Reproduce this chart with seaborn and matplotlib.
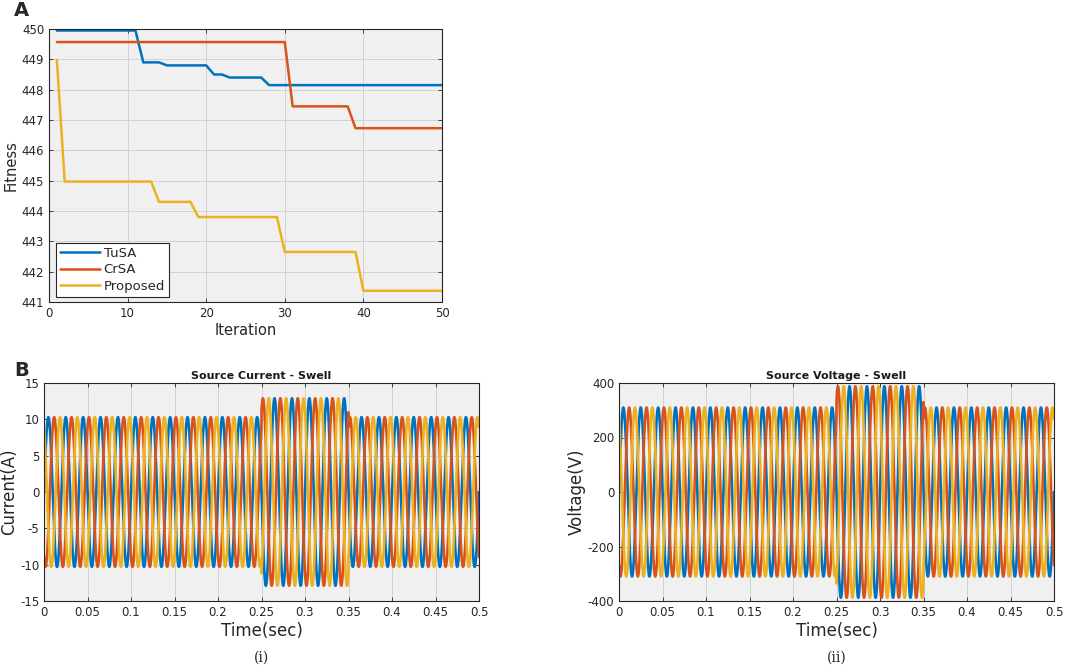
import numpy as np
import pandas as pd
import matplotlib
matplotlib.use("Agg")
import matplotlib.pyplot as plt
import seaborn as sns

# ---------------- Panel A data ----------------
iterations = list(range(1, 51))
tusa = [449.95]*11 + [448.9]*3 + [448.8]*6 + [448.5]*2 + [448.4]*5 + [448.15]*23
crsa = [449.57]*30 + [447.45]*8 + [446.73]*12
proposed = [448.98] + [444.97]*12 + [444.3]*5 + [443.8]*11 + [442.65]*10 + [441.37]*11
series_names = ["TuSA", "CrSA", "Proposed"]

# ---------------- Panel B data (three-phase waveform parameters) ----------------
freq_hz = 50.0
phase_deg = [0.0, -120.0, 120.0]
phase_names = ["a", "b", "c"]
swell_start, swell_end = 0.25, 0.35
current_amp_normal, current_amp_swell = 10.3, 12.9
voltage_amp_normal, voltage_amp_swell = 310.0, 388.0
time_ticks = [0, 0.05, 0.1, 0.15, 0.2, 0.25, 0.3, 0.35, 0.4, 0.45, 0.5]
time_labels = ["0", "0.05", "0.1", "0.15", "0.2", "0.25", "0.3", "0.35", "0.4", "0.45", "0.5"]
current_ticks = [-15, -10, -5, 0, 5, 10, 15]
voltage_ticks = [-400, -200, 0, 200, 400]
fit_yticks = [441, 442, 443, 444, 445, 446, 447, 448, 449, 450]
fit_xticks = [0, 10, 20, 30, 40, 50]

COLORS = ["#0072BD", "#D95319", "#EDB120"]

sns.set_style("ticks")
plt.rcParams["font.family"] = ["DejaVu Sans"]
plt.rcParams["xtick.direction"] = "in"
plt.rcParams["ytick.direction"] = "in"
plt.rcParams["axes.unicode_minus"] = False

W, H = 1065, 669
fig = plt.figure(figsize=(W/100, H/100), dpi=100)

def style_axes(ax):
    ax.set_facecolor("#F0F0F0")
    ax.grid(True, color="#D2D2D2", linewidth=0.7)
    ax.set_axisbelow(True)
    for s in ax.spines.values():
        s.set_color("#262626")
        s.set_linewidth(0.8)
        s.set_visible(True)
    ax.tick_params(axis="both", which="both", length=3, width=0.6, color="#262626",
                   labelsize=8.5, labelcolor="#262626", top=True, right=True)

# ---------------- Panel A ----------------
axA = fig.add_axes([49/W, 1-302/H, 393/W, 273/H])
dfA = pd.DataFrame({
    "Iteration": iterations*3,
    "Fitness": tusa + crsa + proposed,
    "Method": sum([[n]*len(iterations) for n in series_names], []),
})
sns.lineplot(data=dfA, x="Iteration", y="Fitness", hue="Method", palette=COLORS,
             hue_order=series_names, linewidth=1.8, ax=axA, estimator=None)
style_axes(axA)
axA.set_xlim(0, 50)
axA.set_ylim(441, 450)
axA.set_xticks(fit_xticks)
axA.set_yticks(fit_yticks)
axA.set_xlabel("Iteration", fontsize=10.5, color="#262626", labelpad=2)
axA.set_ylabel("Fitness", fontsize=10.5, color="#262626", labelpad=2)
leg = axA.legend(loc="lower left", bbox_to_anchor=(0.018, 0.02), fontsize=9.5,
                 frameon=True, fancybox=False, edgecolor="#262626", framealpha=1,
                 handlelength=3.0, handletextpad=0.3, borderpad=0.3, labelspacing=0.25,
                 borderaxespad=0)
leg.get_frame().set_linewidth(0.8)
for line in leg.get_lines():
    line.set_linewidth(1.8)

fig.text(14/W, 1-11/H, "A", fontsize=14, fontweight="bold", va="center", ha="left")
fig.text(14/W, 1-371/H, "B", fontsize=14, fontweight="bold", va="center", ha="left")

# ---------------- Panel B ----------------
t = np.linspace(0, 0.5, 5001)

def waveform_df(amp_normal, amp_swell):
    amp = np.where((t >= swell_start) & (t < swell_end), amp_swell, amp_normal)
    frames = []
    for name, ph in zip(phase_names, phase_deg):
        y = amp * np.sin(2*np.pi*freq_hz*t + np.deg2rad(ph))
        frames.append(pd.DataFrame({"t": t, "y": y, "phase": name}))
    return pd.concat(frames, ignore_index=True)

def panel_b(rect, df, ylim, yticks, ylabel, title, sub):
    ax = fig.add_axes(rect)
    sns.lineplot(data=df, x="t", y="y", hue="phase", hue_order=phase_names,
                 palette=COLORS, linewidth=1.9, ax=ax, estimator=None, legend=False)
    style_axes(ax)
    ax.set_xlim(0, 0.5)
    ax.set_ylim(*ylim)
    ax.set_xticks(time_ticks)
    ax.set_xticklabels(time_labels)
    ax.set_yticks(yticks)
    ax.set_xlabel("Time(sec)", fontsize=12, color="#262626", labelpad=2)
    ax.set_ylabel(ylabel, fontsize=12, color="#262626", labelpad=1)
    ax.set_title(title, fontsize=8, fontweight="bold", color="#1a1a1a", pad=3)
    pos = ax.get_position()
    fig.text(pos.x0 + pos.width/2, 1-658/H, sub, fontsize=10, family="DejaVu Serif",
             ha="center", va="center")
    return ax

panel_b([44/W, 1-601/H, 435/W, 218/H], waveform_df(current_amp_normal, current_amp_swell),
        (-15, 15), current_ticks, "Current(A)", "Source Current - Swell", "(i)")
panel_b([619/W, 1-601/H, 435/W, 218/H], waveform_df(voltage_amp_normal, voltage_amp_swell),
        (-400, 400), voltage_ticks, "Voltage(V)", "Source Voltage - Swell", "(ii)")

fig.savefig("out.png", dpi=100)
